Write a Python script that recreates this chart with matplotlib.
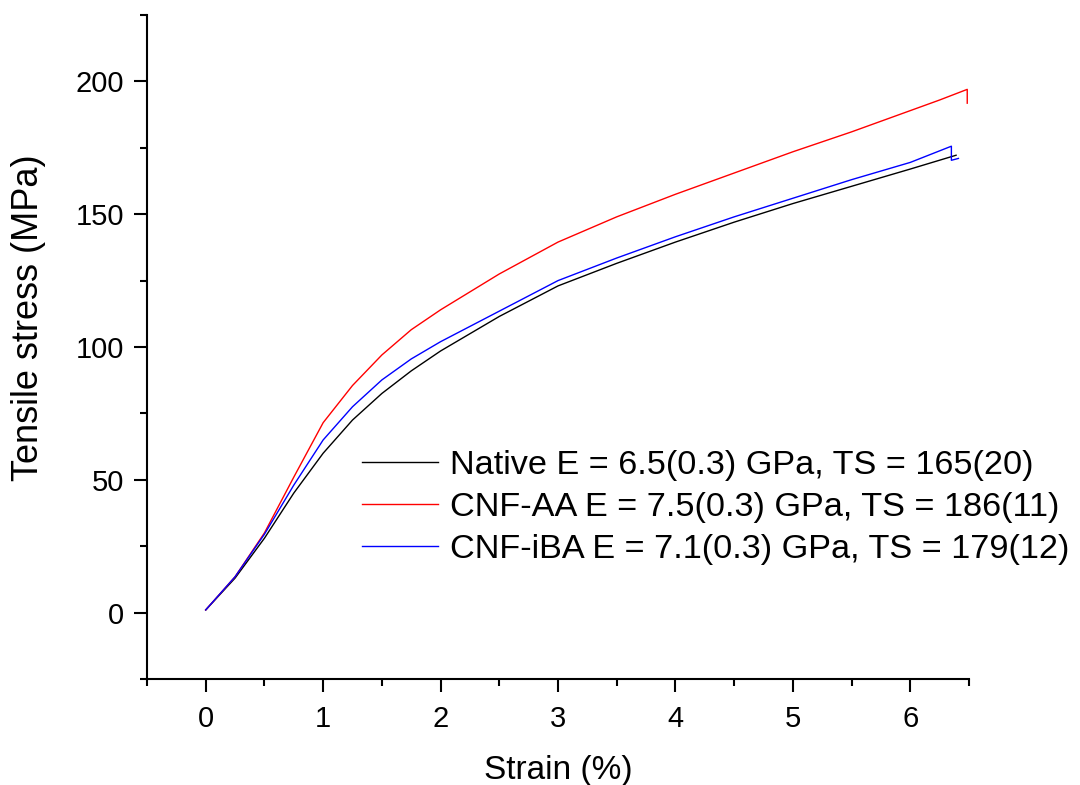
import matplotlib
matplotlib.use("Agg")
import matplotlib.pyplot as plt
from matplotlib.ticker import MultipleLocator

plt.rcParams['font.family'] = ['Liberation Sans', 'DejaVu Sans']

native_strain = [0, 0.25, 0.5, 0.75, 1.0, 1.25, 1.5, 1.75, 2.0, 2.5, 3.0, 3.5, 4.0, 4.5, 5.0, 5.5, 6.0, 6.3, 6.39]
native_stress = [1, 13, 28, 45, 60, 72.5, 82.5, 91, 98.5, 111.5, 123, 131.5, 139.5, 147, 154, 160.5, 167, 171, 172.2]

aa_strain = [0, 0.25, 0.5, 0.75, 1.0, 1.25, 1.5, 1.75, 2.0, 2.5, 3.0, 3.5, 4.0, 4.5, 5.0, 5.5, 6.0, 6.25, 6.485, 6.485]
aa_stress = [1, 13.5, 30, 51, 71.5, 85.5, 97, 106.5, 114, 127.5, 139.5, 149, 157.5, 165.5, 173.5, 181, 189, 193, 197, 191.8]

iba_strain = [0, 0.25, 0.5, 0.75, 1.0, 1.25, 1.5, 1.75, 2.0, 2.5, 3.0, 3.5, 4.0, 4.5, 5.0, 5.5, 6.0, 6.35, 6.35, 6.41]
iba_stress = [1, 13.5, 29.5, 48, 65, 77.5, 87.6, 95.5, 102, 113.5, 125, 133.5, 141.5, 149, 156, 163, 169.5, 175.6, 170.3, 171]

labels = ["Native E = 6.5(0.3) GPa, TS = 165(20)",
          "CNF-AA E = 7.5(0.3) GPa, TS = 186(11)",
          "CNF-iBA E = 7.1(0.3) GPa, TS = 179(12)"]
colors = ["black", "red", "blue"]

fig = plt.figure(figsize=(10.8, 7.85), dpi=100)
ax = fig.add_axes([147/1080, 1-679/785, (969-147)/1080, (679-15)/785])

ax.plot(native_strain, native_stress, color=colors[0], lw=1.0, label=labels[0])
ax.plot(aa_strain, aa_stress, color=colors[1], lw=1.0, label=labels[1])
ax.plot(iba_strain, iba_stress, color=colors[2], lw=1.0, label=labels[2])

ax.set_xlim(-0.5, 6.5)
ax.set_ylim(-25, 225)
ax.xaxis.set_major_locator(MultipleLocator(1))
ax.xaxis.set_minor_locator(MultipleLocator(0.5))
ax.yaxis.set_major_locator(MultipleLocator(50))
ax.yaxis.set_minor_locator(MultipleLocator(25))

for s in ['top', 'right']:
    ax.spines[s].set_visible(False)
for s in ['left', 'bottom']:
    ax.spines[s].set_linewidth(1.5)

ax.tick_params(which='major', direction='out', length=9.5, width=1.5, labelsize=21, pad=7)
ax.tick_params(axis='x', which='major', pad=9)
ax.tick_params(which='minor', direction='out', length=5, width=1.5)

ax.set_xlabel("Strain (%)", fontsize=24, labelpad=16)
ax.set_ylabel("Tensile stress (MPa)", fontsize=26)
ax.yaxis.set_label_coords((46-147)/822, (679-318)/664)

leg = ax.legend(loc='upper left', bbox_to_anchor=(362/1080, 1-449.5/785),
                bbox_transform=fig.transFigure, frameon=False, fontsize=24.7,
                handlelength=2.22, handletextpad=0.35, labelspacing=0.33,
                borderpad=0, borderaxespad=0)

fig.savefig("out.png", dpi=100)
